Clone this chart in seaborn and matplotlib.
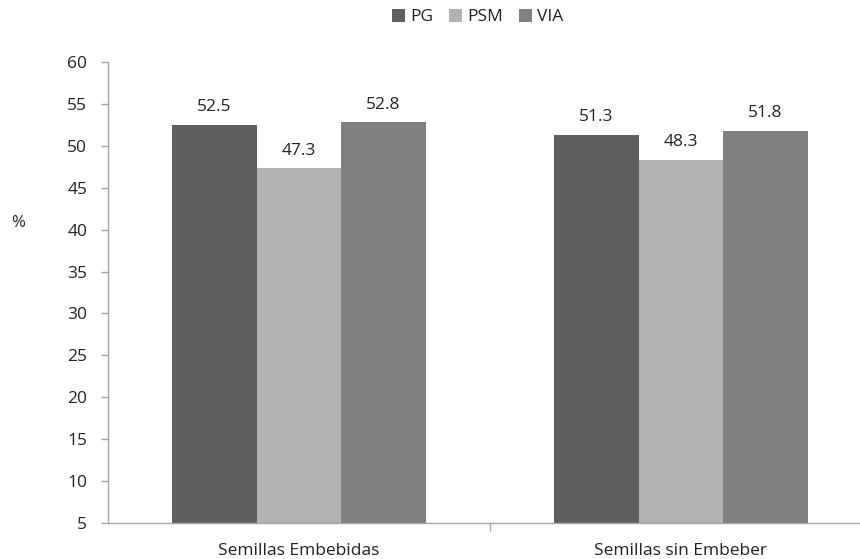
import matplotlib
matplotlib.use("Agg")
import matplotlib.pyplot as plt
import seaborn as sns
import pandas as pd
from matplotlib.patches import Patch

categories = ["Semillas Embebidas", "Semillas sin Embeber"]
series = ["PG", "PSM", "VIA"]
pg = [52.5, 51.3]
psm = [47.3, 48.3]
via = [52.8, 51.8]
colors = ["#5f5f5f", "#b2b2b2", "#808080"]
yticks = list(range(5, 61, 5))

rows = []
for s, vals in zip(series, [pg, psm, via]):
    for c, v in zip(categories, vals):
        rows.append({"cat": c, "serie": s, "val": v})
df = pd.DataFrame(rows)

sns.set_theme(style="white")
plt.rcParams["font.family"] = ["Open Sans", "DejaVu Sans"]

fig = plt.figure(figsize=(8.6, 5.59), dpi=100)
ax = fig.add_axes([108 / 860, 1 - 523 / 559, 752 / 860, (523 - 62) / 559])

sns.barplot(data=df, x="cat", y="val", hue="serie", order=categories,
            hue_order=series, palette=colors, width=0.665, saturation=1,
            edgecolor="none", linewidth=0, ax=ax, legend=False)

for cont in ax.containers:
    ax.bar_label(cont, fmt="%.1f", padding=7, fontsize=12.5, color="#222222")

ax.set_ylim(5, 60)
ax.set_yticks(yticks)
ax.set_xlim(-0.5, 1.469)
ax.set_xticks([0.5], minor=False)
ax.set_xticklabels([""])
for i, c in enumerate(categories):
    ax.text(i, -0.043, c, transform=ax.get_xaxis_transform(), ha="center",
            va="top", fontsize=12.5, color="#222222")

ax.set_xlabel("")
ax.set_ylabel("")
fig.text(18 / 860, 1 - 223 / 559, "%", fontsize=12, color="#222222",
         ha="center", va="center")

for sp in ["top", "right"]:
    ax.spines[sp].set_visible(False)
for sp in ["left", "bottom"]:
    ax.spines[sp].set_color("#a6a6a6")
    ax.spines[sp].set_linewidth(1)
ax.tick_params(axis="y", which="major", left=True, length=5, width=1,
               color="#a6a6a6", labelsize=12.5, labelcolor="#222222", pad=10)
ax.tick_params(axis="x", which="major", bottom=True, length=6, width=1,
               color="#a6a6a6")

handles = [Patch(facecolor=c, edgecolor="none") for c in colors]
fig.legend(handles, series, loc="center", bbox_to_anchor=(478 / 860, 1 - 17 / 559),
           ncol=3, frameon=False, fontsize=12.5, handlelength=0.75,
           handleheight=0.75, handletextpad=0.3, columnspacing=0.9,
           labelcolor="#222222")

fig.savefig("out.png", dpi=100)
